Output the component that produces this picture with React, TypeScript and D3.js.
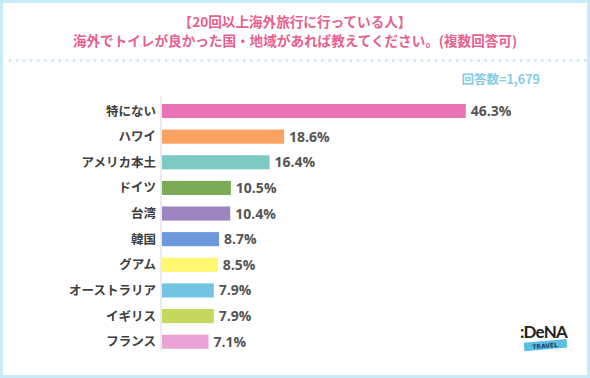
import React from "react";
import * as d3 from "d3";

const categories = ["特にない", "ハワイ", "アメリカ本土", "ドイツ", "台湾", "韓国", "グアム", "オーストラリア", "イギリス", "フランス"];
const values = [46.3, 18.6, 16.4, 10.5, 10.4, 8.7, 8.5, 7.9, 7.9, 7.1];
const colors = ["#e873b6", "#f9a262", "#7ccac3", "#7bab57", "#9c84c1", "#6b99dc", "#fdf870", "#72c4e2", "#c5d85d", "#eba2d5"];
const titleLines = ["【20回以上海外旅行に行っている人】", "海外でトイレが良かった国・地域があれば教えてください。(複数回答可)"];
const sampleText = "回答数=1,679";

const W = 590, H = 378;
const FONT = "'Noto Sans CJK JP', 'Noto Sans', sans-serif";

export default function App() {
  const x = d3.scaleLinear().domain([0, 46.3]).range([162, 465.7]);
  const y = d3.scaleBand().domain(categories).range([98.2, 354.5]).paddingInner(0.45).paddingOuter(0.225);
  const dots = d3.range(10, 586, 7.1);
  return (
    <svg width={W} height={H} style={{ position: "absolute", left: 0, top: 0 }} fontFamily={FONT}>
      <rect x={0} y={0} width={W} height={H} fill="#c9ebf8" />
      <rect x={3} y={3} width={584} height={372} fill="#ffffff" />
      {titleLines.map((t, i) => (
        <text key={i} x={295} y={27 + i * 19} textAnchor="middle" fontSize={13.6} fontWeight="bold" fill="#e8608f">{t}</text>
      ))}
      {dots.map((d, i) => (
        <circle key={i} cx={d} cy={60.5} r={1.3} fill="#bfe4f4" />
      ))}
      <text x={540} y={83.5} textAnchor="end" fontSize={12.5} fontWeight="bold" fill="#86cbe8">{sampleText}</text>
      <line x1={161} x2={161} y1={96} y2={351} stroke="#d9d9d9" strokeWidth={1} />
      {categories.map((c, i) => {
        const yy = y(c)!;
        const bw = y.bandwidth();
        return (
          <g key={c}>
            <rect x={x(0)} y={yy} width={x(values[i]) - x(0)} height={bw} fill={colors[i]} />
            <text x={156} y={yy + bw / 2} dy="0.36em" textAnchor="end" fontSize={12.5} fontWeight="bold" fill="#404040">{c}</text>
            <text x={x(values[i]) + 5} y={yy + bw / 2} dy="0.36em" fontSize={14} fontWeight="bold" fill="#555555" fontFamily="'Open Sans', sans-serif">{values[i].toFixed(1)}%</text>
          </g>
        );
      })}
      <g>
        <text x={543.5} y={338} textAnchor="middle" fontSize={17} fontWeight="bold" fill="#222" fontFamily="'Lato', sans-serif" letterSpacing={-0.8}>:DeNA</text>
        <g transform="rotate(-5 545 345)">
          <rect x={524} y={341} width={43} height={8.5} fill="#5bbfe3" />
          <text x={545} y={348} textAnchor="middle" fontSize={6} fontWeight="bold" fill="#1d3c6e" fontFamily="'DejaVu Sans', sans-serif">TRAVEL</text>
        </g>
      </g>
    </svg>
  );
}
